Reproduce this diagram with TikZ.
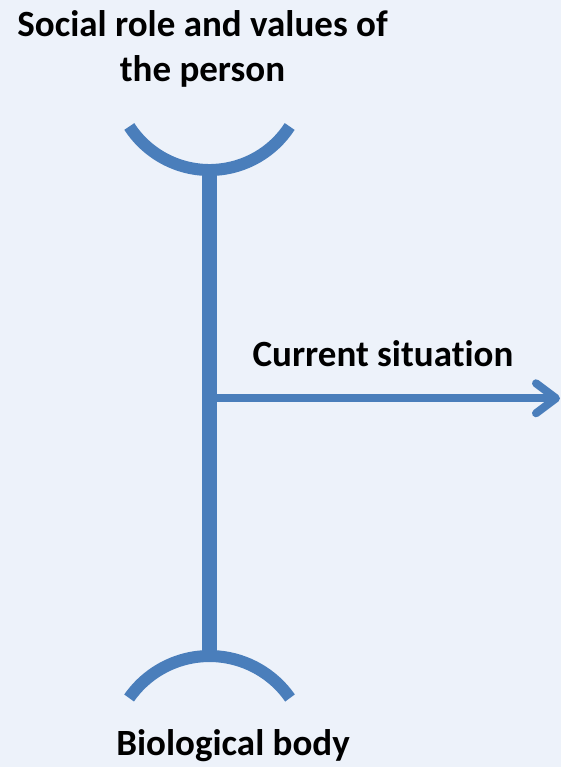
\documentclass[tikz,border=0pt]{standalone}
\usepackage{fontspec}
\setmainfont{Carlito}[Ligatures=NoCommon]
\usetikzlibrary{arrows.meta, positioning}
\definecolor{linienblau}{HTML}{4A7EBB}
\definecolor{hgrund}{HTML}{EDF2FA}

\begin{document}
\begin{tikzpicture}[x=1pt, y=1pt,
    linie/.style={draw=linienblau, line width=#1},
    beschr/.style={font=\fontsize{37}{45}\selectfont\bfseries, inner sep=0pt}]
  % Hintergrund
  \fill[hgrund] (0,0) rectangle (561,767);
  \useasboundingbox (0,0) rectangle (561,767);

  % Punkte
  \coordinate (oben) at (209.5,597);
  \coordinate (unten) at (209.5,111);
  \coordinate (mitte) at (209.5,368.7);
  \coordinate (spitze) at (560,368.7);

  % Boegen
  \draw[linie=12pt] (129.3,640.5) arc[start angle=213, end angle=327, radius=95.6];
  \draw[linie=12pt] (129.1,69.0) arc[start angle=145.1, end angle=34.9, radius=98.1];

  % Achse und Pfeil
  \draw[linie=15pt] (oben) -- (unten);
  \draw[linie=8pt, -{Straight Barb[round, length=20pt, width=30pt]}] (mitte) -- (spitze);

  % Beschriftung
  \node[beschr, align=center, anchor=north] (titel) at (202.5,757) {Social role and values of\\the person};
  \node[beschr, anchor=base] (lage) at (383,400.3) {Current situation};
  \node[beschr, anchor=base] (koerper) at (233,12) {Biological body};
\end{tikzpicture}
\end{document}
